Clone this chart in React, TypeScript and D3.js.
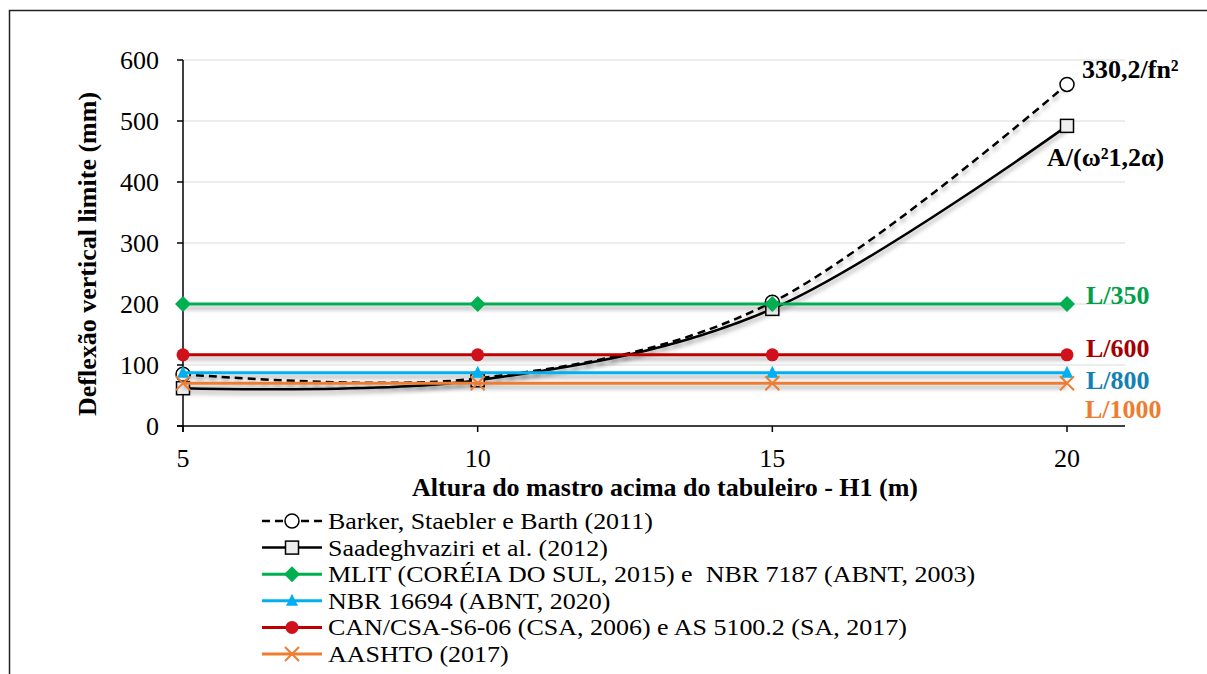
import React from "react";
import * as d3 from "d3";

const heights = [5, 10, 15, 20];
const barker = [85, 78, 203, 560];
const saad = [62, 75, 192, 492];
const mlit = [200, 200, 200, 200];
const nbr16694 = [87.5, 87.5, 87.5, 87.5];
const canCsa = [116.7, 116.7, 116.7, 116.7];
const aashto = [70, 70, 70, 70];
const xTicks = [5, 10, 15, 20];
const yTicks = [0, 100, 200, 300, 400, 500, 600];

const legendLabels = [
  "Barker, Staebler e Barth (2011)",
  "Saadeghvaziri et al. (2012)",
  "MLIT (CORÉIA DO SUL, 2015) e  NBR 7187 (ABNT, 2003)",
  "NBR 16694 (ABNT, 2020)",
  "CAN/CSA-S6-06 (CSA, 2006) e AS 5100.2 (SA, 2017)",
  "AASHTO (2017)",
];

const FONT = "\"Liberation Serif\", \"Times New Roman\", serif";
const FS = 26;

type Series = {
  values: number[];
  color: string;
  width: number;
  dash?: string;
  marker: string;
};

const series: Series[] = [
  { values: barker, color: "#000", width: 2.5, dash: "8,5", marker: "circle" },
  { values: saad, color: "#000", width: 2.5, marker: "square" },
  { values: mlit, color: "#00B050", width: 3, marker: "diamond" },
  { values: nbr16694, color: "#00B0F0", width: 3, marker: "triangle" },
  { values: canCsa, color: "#C00000", width: 3, marker: "dot" },
  { values: aashto, color: "#ED7D31", width: 3, marker: "x" },
];

function Marker({ type, x, y, color }: { type: string; x: number; y: number; color: string }) {
  switch (type) {
    case "circle":
      return <circle cx={x} cy={y} r={7} fill="#fff" stroke="#000" strokeWidth={1.5} />;
    case "square":
      return <rect x={x - 6.5} y={y - 6.5} width={13} height={13} fill="#eee" stroke="#000" strokeWidth={1.5} />;
    case "diamond":
      return <path d={`M${x},${y - 8}L${x + 8},${y}L${x},${y + 8}L${x - 8},${y}Z`} fill={color} />;
    case "triangle":
      return <path d={`M${x},${y - 7}L${x + 6},${y + 5}L${x - 6},${y + 5}Z`} fill={color} />;
    case "dot":
      return <circle cx={x} cy={y} r={6.5} fill="#D0101A" />;
    case "x":
      return (
        <path d={`M${x - 7},${y - 7}L${x + 7},${y + 7}M${x - 7},${y + 7}L${x + 7},${y - 7}`} stroke={color} strokeWidth={2} />
      );
    default:
      return null;
  }
}

export default function App() {
  const W = 1207, H = 674;
  const left = 183, right = 1125, top = 60, bottom = 426;
  const x = d3.scaleLinear().domain([5, 21]).range([left, left + (1067 - 183) * 16 / 15]);
  const y = d3.scaleLinear().domain([0, 600]).range([bottom, top]);
  const line = d3
    .line<number>()
    .x((_, i) => x(heights[i]))
    .y((d) => y(d))
    .curve(d3.curveCardinal.tension(0));

  const legendX0 = 262, legendX1 = 322, legendY0 = 521, legendDy = 26.6;
  const LFS = 24;
  const stretch = 26 / 24;

  return (
    <svg width={W} height={H} style={{ position: "absolute", left: 0, top: 0, background: "#fff", fontFamily: FONT }}>
      <defs>
        <filter id="sh" filterUnits="userSpaceOnUse" x={0} y={0} width={W} height={H}>
          <feDropShadow dx="0" dy="4" stdDeviation="2.2" floodColor="#000" floodOpacity="0.32" />
        </filter>
      </defs>
      <rect x={0} y={0} width={W} height={H} fill="#fff" />
      {/* frame */}
      <path d={`M9.5,${H}V10.5H${W}`} fill="none" stroke="#222" strokeWidth={1.5} />

      {/* gridlines */}
      {yTicks.filter((t) => t > 0).map((t) => (
        <line key={t} x1={left} x2={right} y1={y(t)} y2={y(t)} stroke="#d9d9d9" strokeWidth={1} />
      ))}

      {/* axes */}
      <line x1={left} x2={left} y1={top} y2={bottom + 6} stroke="#000" strokeWidth={1.5} />
      <line x1={left - 6} x2={right} y1={bottom} y2={bottom} stroke="#000" strokeWidth={1.5} />
      {yTicks.map((t) => (
        <g key={t}>
          <line x1={left - 6} x2={left} y1={y(t)} y2={y(t)} stroke="#000" strokeWidth={1.5} />
          <text x={159} y={y(t)} dy="0.33em" textAnchor="end" fontSize={FS}>{t}</text>
        </g>
      ))}
      {xTicks.map((t) => (
        <g key={t}>
          <line x1={x(t)} x2={x(t)} y1={bottom} y2={bottom + 6} stroke="#000" strokeWidth={1.5} />
          <text x={x(t)} y={467} textAnchor="middle" fontSize={FS}>{t}</text>
        </g>
      ))}

      {/* axis titles */}
      <text x={665} y={496} textAnchor="middle" fontSize={FS} fontWeight="bold">
        Altura do mastro acima do tabuleiro - H1 (m)
      </text>
      <text transform={`translate(96,254) rotate(-90)`} textAnchor="middle" fontSize={FS} fontWeight="bold">
        Deflexão vertical limite (mm)
      </text>

      {/* series */}
      {series.map((s, si) => (
        <g key={si}>
          <path d={line(s.values) || ""} fill="none" stroke={s.color} strokeWidth={s.width} strokeDasharray={s.dash} filter="url(#sh)" />
          {s.values.map((v, i) => (
            <Marker key={i} type={s.marker} x={x(heights[i])} y={y(v)} color={s.color} />
          ))}
        </g>
      ))}

      {/* right labels */}
      <text x={1082} y={78} fontSize={FS} fontWeight="bold">330,2/fn²</text>
      <text x={1047} y={166} fontSize={FS} fontWeight="bold">A/(ω²1,2α)</text>
      <text x={1086} y={304} fontSize={FS} fontWeight="bold" fill="#00A04A">L/350</text>
      <text x={1086} y={357} fontSize={FS} fontWeight="bold" fill="#A50000">L/600</text>
      <text x={1086} y={389} fontSize={FS} fontWeight="bold" fill="#1480B4">L/800</text>
      <text x={1085} y={418} fontSize={FS} fontWeight="bold" fill="#ED7D31">L/1000</text>

      {/* legend */}
      {series.map((s, i) => {
        const ly = legendY0 + i * legendDy;
        const mx = (legendX0 + legendX1) / 2;
        return (
          <g key={i}>
            <line x1={legendX0} x2={legendX1} y1={ly} y2={ly} stroke={s.color} strokeWidth={s.width} strokeDasharray={s.dash} />
            <Marker type={s.marker} x={mx} y={ly} color={s.color} />
            <g transform={`translate(328,${ly}) scale(${stretch},1)`}>
              <text x={0} y={0} dy="0.33em" fontSize={LFS} style={{ whiteSpace: "pre" }}>{legendLabels[i]}</text>
            </g>
          </g>
        );
      })}
    </svg>
  );
}
